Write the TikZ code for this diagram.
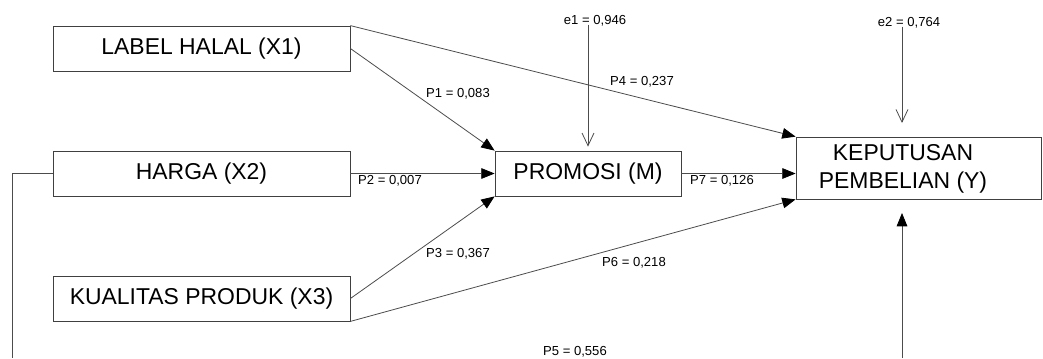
\documentclass[tikz,border=0pt]{standalone}
\usepackage{fontspec}
\setmainfont{Liberation Sans}
\usetikzlibrary{arrows.meta}

\tikzset{
  varbox/.style = {draw=black!75, line width=0.6pt, minimum height=45*0.75pt,
                   inner sep=0pt, font=\fontsize{17.2}{21}\selectfont},
  coef/.style   = {inner sep=0pt, font=\fontsize{9.8}{11}\selectfont},
  path/.style   = {draw=black!70, line width=0.6pt,
                   -{Triangle[length=10pt,width=8pt,color=black,fill=black]}},
  resid/.style  = {draw=black!70, line width=0.6pt, -{Straight Barb[length=9.5pt,width=9pt]}}
}

\begin{document}
\begin{tikzpicture}[x=0.75pt,y=-0.75pt]
  \useasboundingbox (0,0) rectangle (1043,358);
  % variabel
  \node[varbox, minimum width=297*0.75pt] (X1) at (201.5,48.5) {LABEL HALAL (X1)};
  \node[varbox, minimum width=297*0.75pt] (X2) at (201.5,173.5) {HARGA (X2)};
  \node[varbox, minimum width=297*0.75pt] (X3) at (201.5,298.5) {KUALITAS PRODUK (X3)};
  \node[varbox, minimum width=186*0.75pt] (M) at (588,173.5) {PROMOSI (M)};
  \node[varbox, minimum width=245*0.75pt, minimum height=62*0.75pt] (Y) at (918.5,168) {};
  \node[align=center, inner sep=0pt, font=\fontsize{17.2}{21}\selectfont] (Ytxt) at (903,169)
       {KEPUTUSAN\\PEMBELIAN (Y)};
  % residual
  \node[coef] (e1) at (595,21) {e1 = 0,946};
  \node[coef] (e2) at (909,23) {e2 = 0,764};
  \coordinate (e2tip) at (902,123);
  \coordinate (loopL) at (12,358);
  \coordinate (loopR) at (902,358);
  \coordinate (loopTip) at (902,213);
  % jalur
  \draw[path] (X1.east) -- (M.north west);
  \draw[path] (X2.east) -- (M.west);
  \draw[path] (X3.east) -- (M.south west);
  \draw[path] (X1.north east) -- (Y.north west);
  \draw[path] (X3.south east) -- (Y.south west);
  \draw[path] (M.east) -- (M.east -| Y.west);
  \draw[resid] (e1.south -| M.north) ++(0,-2) -- ([yshift=3pt]M.north);
  \draw[resid] (e2.south -| e2tip) ++(0,-2) -- (e2tip);
  \draw[draw=black!70, line width=0.6pt] (X2.west) -- (X2.west -| loopL) -- (loopL);
  \draw[path] (loopR) -- (loopTip);
  % koefisien
  \node[coef] (p1) at (458,94) {P1 = 0,083};
  \node[coef] (p2) at (390,181) {P2 = 0,007};
  \node[coef] (p3) at (458,254) {P3 = 0,367};
  \node[coef] (p4) at (642,82) {P4 = 0,237};
  \node[coef] (p5) at (575,352) {P5 = 0,556};
  \node[coef] (p6) at (634,263) {P6 = 0,218};
  \node[coef] (p7) at (722,181) {P7 = 0,126};
\end{tikzpicture}
\end{document}
